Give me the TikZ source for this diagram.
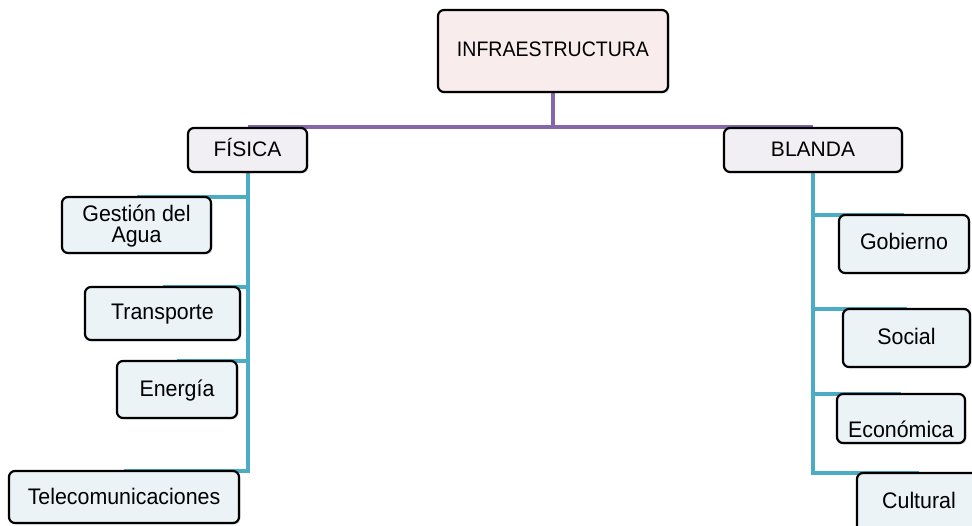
\documentclass[tikz,border=0pt]{standalone}
\usepackage{fontspec}
\setmainfont{Liberation Sans}
\newfontfamily\leaffont[FakeStretch=0.95]{Liberation Sans}
\newfontfamily\topfont[FakeStretch=0.93]{Liberation Sans}
\usetikzlibrary{backgrounds,shadows}
\definecolor{pline}{HTML}{8466AA}
\definecolor{tline}{HTML}{4BACC6}
\definecolor{topfill}{HTML}{F8ECEC}
\definecolor{midfill}{HTML}{F1EFF4}
\definecolor{leaffill}{HTML}{EBF3F7}
\begin{document}
\begin{tikzpicture}[x=1pt,y=-1pt,
  box/.style={draw=black, line width=2.2pt, rounded corners=6pt, inner xsep=0pt, inner ysep=0pt,
    anchor=base, align=center, font=\fontsize{21}{21}\selectfont,
    drop shadow={shadow xshift=1.5pt, shadow yshift=-1.5pt, opacity=0.25}},
  topbox/.style={box, fill=topfill, font=\topfont\fontsize{21}{21}\selectfont},
  midbox/.style={box, fill=midfill},
  leafbox/.style={box, fill=leaffill, font=\leaffont\fontsize{22.5}{21}\selectfont},
  pconn/.style={draw=pline, line width=4pt},
  tconn/.style={draw=tline, line width=4pt}]
\useasboundingbox (0,0) rectangle (972,526);
% boxes
\node[topbox, minimum width=230pt, text height=47pt, text depth=35pt] (infra) at (553,57) {INFRAESTRUCTURA};
\node[midbox, minimum width=119pt, text height=29pt, text depth=15pt] (fis) at (247.5,157) {FÍSICA};
\node[midbox, minimum width=178pt, text height=29pt, text depth=15pt] (bla) at (813,157) {BLANDA};
\node[leafbox, minimum width=149pt, text height=46pt, text depth=10pt] (gest) at (136.5,243) {Gestión del\\Agua};
\node[leafbox, minimum width=155pt, text height=33pt, text depth=20pt] (trans) at (162.5,320) {Transporte};
\node[leafbox, minimum width=120pt, text height=36pt, text depth=21pt] (ener) at (177,397) {Energía};
\node[leafbox, minimum width=230pt, text height=33pt, text depth=19pt] (tele) at (124,504) {Telecomunicaciones};
\node[leafbox, minimum width=130pt, text height=35pt, text depth=23pt] (gob) at (904,250) {Gobierno};
\node[leafbox, minimum width=127pt, text height=36pt, text depth=22pt] (soc) at (906.5,345) {Social};
\node[leafbox, minimum width=128pt, text height=43pt, text depth=6pt] (eco) at (901,437) {Económica};
\node[leafbox, minimum width=124pt, text height=35pt, text depth=27pt] (cul) at (919,508) {Cultural};
% connectors
\begin{pgfonlayer}{background}
\draw[pconn] (infra.south) -- (infra.south |- fis.north);
\draw[pconn] (fis.north) -- (bla.north);
\draw[tconn] (fis.south) -- ([yshift=-1pt]fis.south |- tele.north) -- ([yshift=-1pt]tele.north);
\draw[tconn] ([yshift=-1pt]fis.south |- gest.north) -- ([yshift=-1pt]gest.north);
\draw[tconn] ([yshift=-1pt]fis.south |- trans.north) -- ([yshift=-1pt]trans.north);
\draw[tconn] ([yshift=-1pt]fis.south |- ener.north) -- ([yshift=-1pt]ener.north);
\draw[tconn] (bla.south) -- ([yshift=-1pt]bla.south |- cul.north) -- ([yshift=-1pt]cul.north);
\draw[tconn] ([yshift=-1pt]bla.south |- gob.north) -- ([yshift=-1pt]gob.north);
\draw[tconn] ([yshift=-1pt]bla.south |- soc.north) -- ([yshift=-1pt]soc.north);
\draw[tconn] ([yshift=-1pt]bla.south |- eco.north) -- ([yshift=-1pt]eco.north);
\end{pgfonlayer}
\end{tikzpicture}
\end{document}
